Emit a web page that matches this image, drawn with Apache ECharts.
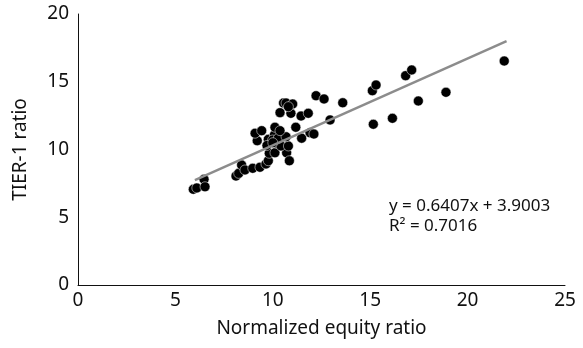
<!DOCTYPE html>
<html>
<head>
    <meta charset="utf-8">
    <title>TIER-1 ratio vs normalized equity ratio</title>
    <script src="https://cdn.jsdelivr.net/npm/echarts@6/dist/echarts.min.js"></script>
    <style type="text/css">
        body{
            margin: 0;
            background: #fff;
        }
    </style>
</head>
<body>
<div id="main" style="width: 583px;height:348px;"></div>
<script>
    // normalized equity ratio (x) and TIER-1 ratio (y)
    var equityRatio = [
        5.92, 6.1, 6.47, 6.52, 8.11, 8.25, 8.40, 8.57, 8.97, 9.34, 9.65, 9.77, 9.82,
        10.11, 10.71, 10.85, 10.20, 10.42, 10.80, 9.20, 9.77, 10.08, 9.99, 10.28, 10.68,
        11.91, 12.11, 11.48, 9.09, 9.43, 10.11, 10.37, 11.18, 10.37, 10.93, 11.45, 11.82,
        10.55, 10.68, 11.02, 10.80, 12.22, 12.63, 13.59, 12.94, 9.70, 10.00,
        15.11, 15.30, 16.82, 17.13, 21.88, 18.89, 17.47, 16.14, 15.16
    ];
    var tier1Ratio = [
        7.06, 7.16, 7.80, 7.25, 8.04, 8.24, 8.86, 8.49, 8.61, 8.69, 8.93, 9.17, 9.72,
        9.76, 9.76, 9.17, 10.46, 10.26, 10.26, 10.65, 10.75, 11.07, 10.70, 10.83, 10.94,
        11.24, 11.14, 10.83, 11.20, 11.39, 11.64, 11.39, 11.64, 12.72, 12.67, 12.47, 12.67,
        13.43, 13.43, 13.36, 13.16, 13.97, 13.73, 13.45, 12.18, 10.30, 10.50,
        14.34, 14.76, 15.45, 15.87, 16.53, 14.22, 13.58, 12.30, 11.86
    ];
    var xTicks = [0, 5, 10, 15, 20, 25];
    var yTicks = [0, 5, 10, 15, 20];
    var slope = 0.6407;
    var intercept = 3.9003;
    var rSquared = 0.7016;
    var trendRange = [6, 22];

    var points = [];
    for (var i = 0; i < equityRatio.length; i++) {
        points.push([equityRatio[i], tier1Ratio[i]]);
    }
    var trend = trendRange.map(function (x) { return [x, slope * x + intercept]; });

    var font = '"Noto Sans", "DejaVu Sans", sans-serif';
    var myChart = echarts.init(document.getElementById('main'));
    var option = {
        animation: false,
        grid: {left: 78, right: 18, top: 14, bottom: 63},
        xAxis: {
            type: 'value',
            min: xTicks[0], max: xTicks[xTicks.length - 1], interval: 5,
            name: 'Normalized equity ratio',
            nameLocation: 'middle', nameGap: 34,
            nameTextStyle: {fontFamily: font, fontSize: 19, color: '#111'},
            axisLine: {lineStyle: {color: '#111', width: 1}},
            axisTick: {show: false},
            splitLine: {show: false},
            axisLabel: {fontFamily: font, fontSize: 19, color: '#111', margin: 6}
        },
        yAxis: {
            type: 'value',
            min: yTicks[0], max: yTicks[yTicks.length - 1], interval: 5,
            name: 'TIER-1 ratio',
            nameLocation: 'middle', nameGap: 48,
            nameTextStyle: {fontFamily: font, fontSize: 19, color: '#111'},
            axisLine: {show: true, lineStyle: {color: '#111', width: 1}},
            axisTick: {show: false},
            splitLine: {show: false},
            axisLabel: {fontFamily: font, fontSize: 19, color: '#111', margin: 9}
        },
        series: [{
            type: 'scatter',
            data: points,
            symbolSize: 10,
            itemStyle: {color: '#000', opacity: 1, borderColor: '#fff', borderWidth: 0.5},
            z: 2
        }, {
            type: 'line',
            data: trend,
            symbol: 'none',
            lineStyle: {color: '#8c8c8c', width: 2.5},
            z: 3
        }],
        graphic: [{
            type: 'text', left: 389, top: 198,
            style: {text: 'y = ' + slope + 'x + ' + intercept, font: '17px ' + font, fill: '#111'}
        }, {
            type: 'text', left: 389, top: 218,
            style: {text: 'R\u00b2 = ' + rSquared, font: '17px ' + font, fill: '#111'}
        }]
    };
    myChart.setOption(option);
</script>
</body>
</html>
